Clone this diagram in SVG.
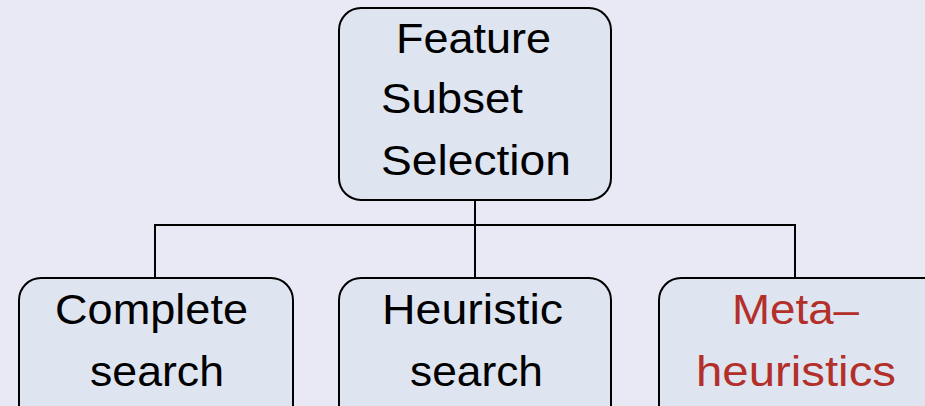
<svg xmlns="http://www.w3.org/2000/svg" width="925" height="406" viewBox="0 0 925 406">
<style>
.box{fill:#dee4f0;stroke:#000;stroke-width:2}
.t{font-family:"Liberation Sans",Arial,sans-serif;font-size:42px;fill:#000}
.red{fill:#b3302a}
.conn{stroke:#000;stroke-width:2;fill:none}
</style>
<rect x="0" y="0" width="925" height="406" fill="#e9e9f5"/>
<g id="connectors">
<path class="conn" d="M475 200V225M155 278V225H795V278M475 225V278"/>
</g>
<g id="root">
<rect class="box" x="339" y="8" width="272" height="192" rx="22"/>
<text class="t" x="396" y="53" textLength="155" lengthAdjust="spacingAndGlyphs">Feature</text>
<text class="t" x="381" y="113" textLength="142" lengthAdjust="spacingAndGlyphs">Subset</text>
<text class="t" x="381" y="175" textLength="190" lengthAdjust="spacingAndGlyphs">Selection</text>
</g>
<g id="complete">
<rect class="box" x="19" y="278" width="274" height="150" rx="22"/>
<text class="t" x="55" y="324" textLength="193" lengthAdjust="spacingAndGlyphs">Complete</text>
<text class="t" x="90" y="386" textLength="134" lengthAdjust="spacingAndGlyphs">search</text>
</g>
<g id="heuristic">
<rect class="box" x="339" y="278" width="272" height="150" rx="22"/>
<text class="t" x="382" y="324" textLength="181" lengthAdjust="spacingAndGlyphs">Heuristic</text>
<text class="t" x="410" y="386" textLength="133" lengthAdjust="spacingAndGlyphs">search</text>
</g>
<g id="meta">
<rect class="box" x="659" y="278" width="290" height="150" rx="22"/>
<text class="t red" x="732" y="324" textLength="127" lengthAdjust="spacingAndGlyphs">Meta–</text>
<text class="t red" x="696" y="386" textLength="200" lengthAdjust="spacingAndGlyphs">heuristics</text>
</g>
</svg>
